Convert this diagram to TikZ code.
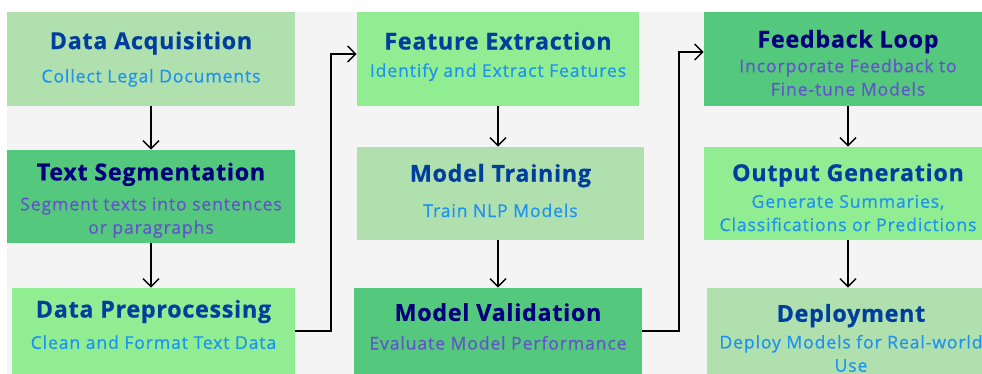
\documentclass[tikz,border=0pt]{standalone}
\usepackage{fontspec}
\setmainfont{Open Sans}
\newfontfamily\titlefamily[LetterSpace=3, FakeBold=0.6]{Open Sans}
\newfontfamily\subfamily[LetterSpace=5, FakeBold=0.5]{Open Sans}
\usepackage{xcolor}
\usetikzlibrary{arrows.meta, positioning}

\definecolor{sage}{RGB}{176,224,174}
\definecolor{mint}{RGB}{145,237,145}
\definecolor{emerald}{RGB}{84,200,124}
\definecolor{cobalt}{RGB}{0,62,158}
\definecolor{navy}{RGB}{0,0,125}
\definecolor{skyblue}{RGB}{30,146,240}
\definecolor{slate}{RGB}{100,84,204}
\definecolor{canvas}{RGB}{244,244,244}

% stage heading, optional strut pushes the block down
\newcommand{\hd}[2][0pt]{{\color{head}\titlefamily\fontsize{17.5}{20}\selectfont\bfseries\rule{0pt}{#1}#2}}

\begin{document}
\begin{tikzpicture}[x=0.75pt, y=-0.75pt,
    stage/.style={rectangle, inner sep=0pt, align=center, font=\subfamily\fontsize{13.2}{17.5}\selectfont},
    softbox/.style={stage, fill=sage, text=skyblue, execute at begin node={\colorlet{head}{cobalt}}},
    brightbox/.style={stage, fill=mint, text=skyblue, execute at begin node={\colorlet{head}{cobalt}}},
    deepbox/.style={stage, fill=emerald, text=slate, execute at begin node={\colorlet{head}{navy}}},
    flow/.style={-{Straight Barb[length=6pt, width=12pt]}, line width=1.1pt}]
    \useasboundingbox (0,0) rectangle (982,374);
    \clip (0,0) rectangle (982,374);
    \fill[white] (0,0) rectangle (982,374);
    \fill[canvas] (7,12) rectangle (982,374);
    % first column
    \node[softbox, minimum width=216pt, minimum height=70.5pt] (acq) at (151,59) {\hd{Data Acquisition}\\[7.5pt]Collect Legal Documents};
    \node[deepbox, minimum width=216pt, minimum height=69.75pt] (seg) at (151,196.5) {\hd[19pt]{Text Segmentation}\\[5pt]Segment texts into sentences\\or paragraphs};
    \node[brightbox, minimum width=212.25pt, minimum height=64.5pt, text depth=10pt] (prep) at (153.5,331) {\hd{Data Preprocessing}\\[6pt]Clean and Format Text Data};
    % second column
    \node[brightbox, minimum width=211.5pt, minimum height=70.5pt, text depth=7pt] (feat) at (498,59) {\hd{Feature Extraction}\\[3pt]Identify and Extract Features};
    \node[softbox, minimum width=215.25pt, minimum height=69.75pt, text depth=4.5pt] (train) at (500.5,193.5) {\hd{Model Training}\\[9pt]Train NLP Models};
    \node[deepbox, minimum width=216pt, minimum height=64.5pt, text depth=7pt] (valid) at (498,331) {\hd{Model Validation}\\[4pt]Evaluate Model Performance};
    % third column
    \node[deepbox, minimum width=216pt, minimum height=70.5pt] (loop) at (848,59) {\hd[19pt]{Feedback Loop}\\[1pt]Incorporate Feedback to\\Fine-tune Models};
    \node[brightbox, minimum width=216pt, minimum height=69.75pt] (output) at (848,193.5) {\hd[19pt]{Output Generation}\\[2.5pt]Generate Summaries,\\Classifications or Predictions};
    \node[softbox, minimum width=216pt, minimum height=75pt] (deploy) at (851,338) {\hd{Deployment}\\[2.5pt]Deploy Models for Real-world\\Use};
    % connectors
    \coordinate (bendA) at (331,54);
    \coordinate (bendB) at (679,52);
    \draw[flow] (acq) -- (seg);
    \draw[flow] (seg.south) -- (seg.south |- prep.north);
    \draw[flow] (feat) -- (feat.south |- train.north);
    \draw[flow] (valid.north |- train.south) -- (valid.north);
    \draw[flow] (loop) -- (output);
    \draw[flow] (output) -- (output.south |- deploy.north);
    \draw[flow] (prep.east) -| (bendA) -- (feat.west |- bendA);
    \draw[flow] (valid.east) -| (bendB) -- (loop.west |- bendB);
\end{tikzpicture}
\end{document}
